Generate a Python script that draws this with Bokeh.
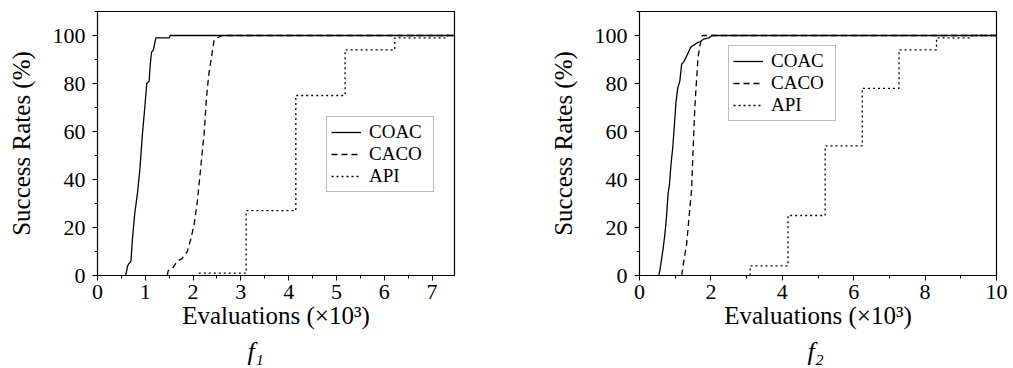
from bokeh.plotting import figure
from bokeh.layouts import row
from bokeh.models import Range1d, FixedTicker, Legend, LegendItem, Title
from bokeh.embed import file_html
from bokeh.resources import INLINE

# ---------------- data ----------------
f1_coac_x = [0.59, 0.63, 0.66, 0.70, 0.73, 0.78, 0.835, 0.89, 0.94, 0.99, 1.03, 1.08, 1.10, 1.13, 1.17, 1.22, 1.50, 1.52, 7.47]
f1_coac_y = [0, 4, 5, 6, 15, 26, 34, 45, 59, 70, 80, 81, 87, 93, 94, 99, 99, 100, 100]
f1_caco_x = [1.46, 1.48, 1.57, 1.67, 1.77, 1.88, 1.95, 2.02, 2.09, 2.16, 2.23, 2.28, 2.33, 2.40, 2.44, 2.50, 2.61, 7.47]
f1_caco_y = [0, 2, 3, 6, 7, 10, 15, 21, 31, 45, 59, 74, 84, 93, 98, 99, 100, 100]
f1_api_x = [2.12, 3.11, 4.15, 5.18, 6.22, 7.30, 7.47]
f1_api_y = [1, 27, 75, 94, 99, 100, 100]

f2_coac_x = [0.54, 0.57, 0.62, 0.66, 0.71, 0.76, 0.80, 0.84, 0.88, 0.93, 0.98, 1.02, 1.07, 1.13, 1.18, 1.24, 1.34, 1.43, 1.52, 1.62, 1.71, 1.80, 1.94, 2.04, 10]
f2_coac_y = [0, 2, 7, 11, 17, 25, 34, 38, 46, 53, 63, 72, 78, 81, 88, 89, 92, 95, 96, 97, 97.5, 98.5, 99, 100, 100]
f2_caco_x = [1.18, 1.20, 1.24, 1.32, 1.38, 1.46, 1.50, 1.55, 1.60, 1.64, 1.71, 1.76, 10]
f2_caco_y = [0, 2, 6, 13, 23, 36, 52, 70, 82, 91, 97, 100, 100]
f2_api_x = [3.10, 3.10, 4.16, 5.20, 6.24, 7.27, 8.32, 9.28, 10]
f2_api_y = [0, 4, 25, 54, 78, 94, 99, 100, 100]

series_names = ["COAC", "CACO", "API"]
y_ticks = [0, 20, 40, 60, 80, 100]
y_minor = [0, 10, 20, 30, 40, 50, 60, 70, 80, 90, 100, 110]
f1_xticks = [0, 1, 2, 3, 4, 5, 6, 7]
f1_xminor = [i * 0.5 for i in range(15)]
f2_xticks = [0, 2, 4, 6, 8, 10]
f2_xminor = list(range(11))

x_label = "Evaluations (\u00d710\u00b3)"
y_label = "Success Rates (%)"
panel_titles = ["f\u2081", "f\u2082"]

FONT = "Liberation Serif"


def make_panel(xmax, xticks, xminor, data, left, right, legend_loc, title_text, title_offset):
    p = figure(width=left + 357 + right, height=368, frame_width=357, frame_height=264,
               x_range=Range1d(0, xmax), y_range=Range1d(0, 110),
               output_backend="svg", toolbar_location=None,
               min_border_left=left, min_border_right=right,
               min_border_top=11, min_border_bottom=93)
    p.grid.visible = False
    p.outline_line_color = "black"
    p.outline_line_width = 1.2
    p.background_fill_color = "white"
    p.border_fill_color = "white"
    p.xaxis.ticker = FixedTicker(ticks=xticks, minor_ticks=xminor)
    p.yaxis.ticker = FixedTicker(ticks=y_ticks, minor_ticks=y_minor)
    for ax in (p.xaxis, p.yaxis):
        ax.major_tick_in = 0
        ax.major_tick_out = 5
        ax.minor_tick_in = 0
        ax.minor_tick_out = 3
        ax.axis_line_color = "black"
        ax.major_tick_line_color = "black"
        ax.minor_tick_line_color = "black"
        ax.major_label_text_font = FONT
        ax.major_label_text_font_size = "22px"
        ax.major_label_text_color = "black"
        ax.axis_label_text_font = FONT
        ax.axis_label_text_font_size = "25px"
        ax.axis_label_text_font_style = "normal"
        ax.axis_label_text_color = "black"
    p.xaxis.axis_label = x_label
    p.yaxis.axis_label = y_label
    p.xaxis.axis_label_standoff = 0
    p.yaxis.axis_label_standoff = 15
    p.xaxis.major_label_standoff = 4
    p.yaxis.major_label_standoff = 7

    (cx, cy), (kx, ky), (ax_, ay_) = data
    r1 = p.line(cx, cy, line_color="black", line_width=1.3)
    r2 = p.line(kx, ky, line_color="black", line_width=1.3, line_dash="6 4")
    r3 = p.step(ax_, ay_, mode="after", line_color="black", line_width=1.3, line_dash="2 3")

    legend = Legend(items=[LegendItem(label=series_names[0], renderers=[r1]),
                           LegendItem(label=series_names[1], renderers=[r2]),
                           LegendItem(label=series_names[2], renderers=[r3])],
                    location=legend_loc)
    legend.label_text_font = FONT
    legend.label_text_font_size = "19px"
    legend.label_text_color = "black"
    legend.glyph_width = 30
    legend.glyph_height = 16
    legend.label_height = 16
    legend.label_width = 60
    legend.label_standoff = 8
    legend.spacing = -4
    legend.padding = 4
    legend.margin = 0
    legend.border_line_color = "#7a7a7a"
    legend.border_line_width = 1.5
    legend.background_fill_alpha = 1
    p.add_layout(legend, "center")

    t = Title(text=title_text, align="left", offset=title_offset,
              text_font=FONT, text_font_size="26px", text_font_style="italic",
              text_color="black", standoff=6)
    p.add_layout(t, "below")
    return p


p1 = make_panel(7.47, f1_xticks, f1_xminor,
                [(f1_coac_x, f1_coac_y), (f1_caco_x, f1_caco_y), (f1_api_x, f1_api_y)],
                97, 52, (229, 83), panel_titles[0], 150)
p2 = make_panel(10, f2_xticks, f2_xminor,
                [(f2_coac_x, f2_coac_y), (f2_caco_x, f2_caco_y), (f2_api_x, f2_api_y)],
                133, 17, (89, 154), panel_titles[1], 168)

layout = row(p1, p2)
open("out.html", "w").write(file_html(layout, INLINE))
